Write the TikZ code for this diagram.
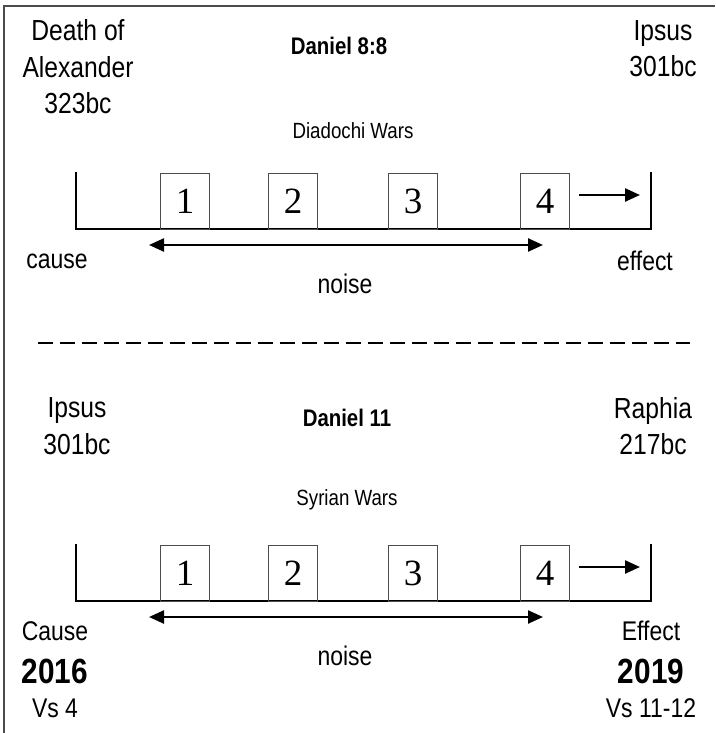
\documentclass[tikz,border=0pt]{standalone}
\usepackage{fontspec}
\setmainfont{Liberation Sans}[FakeStretch=0.85]
\newfontfamily\numfont{Liberation Serif}
\usetikzlibrary{arrows.meta}
\begin{document}
\begin{tikzpicture}[x=1pt,y=-1pt,
  big/.style={font=\fontsize{29}{36.5}\selectfont, align=center, inner sep=0pt},
  head/.style={font=\bfseries\fontsize{24}{28}\selectfont, inner sep=0pt},
  mid/.style={font=\fontsize{22}{27}\selectfont, inner sep=0pt},
  small/.style={font=\fontsize{27}{32}\selectfont, inner sep=0pt},
  year/.style={font=\bfseries\fontsize{35}{40}\selectfont, inner sep=0pt},
  numbox/.style={draw=black!70, line width=0.9pt, minimum width=49pt, minimum height=56pt, inner sep=0pt, font=\numfont\fontsize{37}{42}\selectfont},
  axis/.style={line width=2.6pt, line cap=rect},
  arr/.style={line width=2.4pt, -{Triangle[length=15pt,width=13pt]}},
  darr/.style={line width=2.4pt, {Triangle[length=15pt,width=13pt]}-{Triangle[length=15pt,width=13pt]}},
  frame/.style={draw=black!70, line width=1.3pt}
]
\useasboundingbox (0,0) rectangle (715,733);
% frame
\coordinate (fa) at (4,733);
\coordinate (fb) at (4,6);
\coordinate (fc) at (715,6);
\draw[frame] (fa) -- (fb) -- (fc);

% ---------- top section ----------
\node[big] (death) at (78,67) {Death of\\Alexander\\323bc};
\node[head] (dan8) at (339,46) {Daniel 8:8};
\node[big] (ipsus1) at (663,48.5) {Ipsus\\301bc};
\node[mid] (diad) at (353,131) {Diadochi Wars};

\coordinate (tl1) at (76,173);
\coordinate (tl2) at (76,229);
\coordinate (tr2) at (651,229);
\coordinate (tr1) at (651,173);
\draw[axis] (tl1) -- (tl2) -- (tr2) -- (tr1);

\node[numbox] (a1) at (185,201) {1};
\node[numbox] (a2) at (293,201) {2};
\node[numbox] (a3) at (413,201) {3};
\node[numbox] (a4) at (545,201) {4};
\coordinate (as) at (579,195);
\coordinate (ae) at (640,195);
\draw[arr] (as) -- (ae);

\coordinate (ad1) at (149,245);
\coordinate (ad2) at (543,245);
\draw[darr] (ad1) -- (ad2);

\node[small] (cause) at (57,261) {cause};
\node[small] (effect) at (645,261) {effect};
\node[small] (noise1) at (345,284) {noise};

% dashed separator
\coordinate (s1) at (38,343);
\coordinate (s2) at (690,343);
\draw[line width=2.2pt, dash pattern=on 15pt off 7pt] (s1) -- (s2);

% ---------- bottom section ----------
\node[big] (ipsus2) at (77,426) {Ipsus\\301bc};
\node[head] (dan11) at (347,418) {Daniel 11};
\node[big] (raphia) at (653,426) {Raphia\\217bc};
\node[mid] (syr) at (347,500) {Syrian Wars};

\coordinate (bl1) at (76,545);
\coordinate (bl2) at (76,601);
\coordinate (br2) at (651,601);
\coordinate (br1) at (651,545);
\draw[axis] (bl1) -- (bl2) -- (br2) -- (br1);

\node[numbox] (c1) at (185,573) {1};
\node[numbox] (c2) at (293,573) {2};
\node[numbox] (c3) at (413,573) {3};
\node[numbox] (c4) at (545,573) {4};
\coordinate (cs) at (579,567);
\coordinate (ce) at (640,567);
\draw[arr] (cs) -- (ce);

\coordinate (cd1) at (149,617);
\coordinate (cd2) at (543,617);
\draw[darr] (cd1) -- (cd2);

\node[small] (cause2) at (55,631) {Cause};
\node[year] (y2016) at (55,671) {2016};
\node[small] (vs4) at (55,708) {Vs 4};
\node[small] (noise2) at (345,656) {noise};
\node[small] (effect2) at (651,631) {Effect};
\node[year] (y2019) at (651,671) {2019};
\node[small] (vs11) at (651,708) {Vs 11-12};
\end{tikzpicture}
\end{document}
